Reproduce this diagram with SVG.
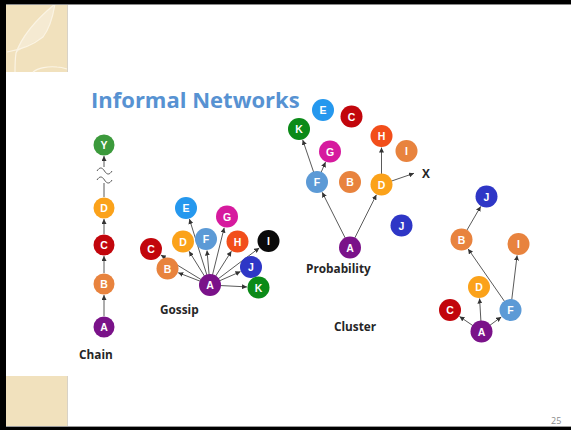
<svg xmlns="http://www.w3.org/2000/svg" width="571" height="430" viewBox="0 0 571 430">
  <style>
    .lbl { font-family: "Open Sans", "Liberation Sans", sans-serif; font-weight: 700; font-size: 11.8px; fill: #262626; }
    .nt { font-family: "Liberation Sans", "DejaVu Sans", sans-serif; font-weight: 700; font-size: 10.5px; fill: #ffffff; text-anchor: middle; dominant-baseline: central; }
    .edge { stroke: #5a5a5a; stroke-width: 1; fill: none; marker-end: url(#ah); }
    .plain { stroke: #5a5a5a; stroke-width: 1; fill: none; }
    .cA { fill: #7a1289; } .cB { fill: #e8833e; } .cC { fill: #c2060c; }
    .cD { fill: #fba21a; } .cE { fill: #2598ee; } .cF { fill: #5c9ad6; }
    .cG { fill: #d61a9e; } .cH { fill: #f24e1a; } .cI { fill: #0a0a0a; }
    .cIo { fill: #e8833e; } .cJ { fill: #2e36c6; } .cK { fill: #0b8a18; }
    .cY { fill: #3c9a3c; }
  </style>
  <defs>
    <marker id="ah" viewBox="0 0 6 6" refX="6" refY="3" markerWidth="5" markerHeight="5" orient="auto" markerUnits="userSpaceOnUse">
      <path d="M0,0 L6,3 L0,6 z" fill="#333"/>
    </marker>
  </defs>

  <!-- slide background and frame -->
  <rect x="0" y="0" width="571" height="430" fill="#ffffff"/>
  <g id="corner-top">
    <rect x="6" y="4" width="61" height="68" fill="#f1e1bd"/>
    <path d="M55,4 C40,16 25,30 16,53 C22,48 34,42 43,37 C50,28 53,16 55,4 z" fill="#f5ead2"/>
    <path d="M55,4 C38,18 22,36 16,53 C15,60 15,66 15,72" stroke="#fbf4e4" stroke-width="1.2" fill="none"/>
    <path d="M7,52 C20,50 34,44 43,37 C50,28 53,16 55,4" stroke="#fbf4e4" stroke-width="1.2" fill="none"/>
    <path d="M33,72 C38,68 48,66 57,67 C61,67 64,68 67,69" stroke="#fbf4e4" stroke-width="1.2" fill="none"/>
    <line x1="67.5" y1="4" x2="67.5" y2="72" stroke="#d8d2c6" stroke-width="1"/>
  </g>
  <g id="corner-bottom">
    <rect x="6" y="376" width="61" height="50" fill="#f1e1bd"/>
    <line x1="67.5" y1="376" x2="67.5" y2="426" stroke="#d8d2c6" stroke-width="1"/>
  </g>
  <rect x="0" y="0" width="571" height="4" fill="#000"/>
  <rect x="6" y="4" width="565" height="1" fill="#8a8a8a"/>
  <rect x="0" y="0" width="6" height="430" fill="#000"/>
  <rect x="6" y="426" width="565" height="1" fill="#9a9a9a"/>
  <rect x="0" y="427" width="571" height="3" fill="#000"/>

  <text x="91" y="108" font-family="'Open Sans', 'Liberation Sans', sans-serif" font-weight="700" font-size="22" fill="#5792d2">Informal Networks</text>
  <text x="551" y="424" font-family="'Open Sans', 'Liberation Sans', sans-serif" font-size="9" fill="#8c8c8c">25</text>

  <!-- connectors -->
  <g id="connectors">
    <!-- chain -->
    <line class="edge" x1="104" y1="316" x2="104" y2="295"/>
    <line class="edge" x1="104" y1="273" x2="104" y2="256"/>
    <line class="edge" x1="104" y1="234" x2="104" y2="219"/>
    <line class="plain" x1="104" y1="197" x2="104" y2="183"/>
    <path class="plain" d="M97,180 C99.5,176 102,176 104.5,180 S109.5,184 112,180"/>
    <path class="plain" d="M97,171 C99.5,167 102,167 104.5,171 S109.5,175 112,171"/>
    <line class="edge" x1="104" y1="167" x2="104" y2="156"/>
    <!-- gossip -->
    <line class="edge" x1="210" y1="285" x2="189.4" y2="219"/>
    <line class="edge" x1="210" y1="285" x2="224.2" y2="227.7"/>
    <line class="edge" x1="210" y1="285" x2="160.8" y2="255"/>
    <line class="edge" x1="210" y1="285" x2="189.1" y2="251.3"/>
    <line class="edge" x1="210" y1="285" x2="207" y2="250.5"/>
    <line class="edge" x1="210" y1="285" x2="231.4" y2="251.2"/>
    <line class="edge" x1="210" y1="285" x2="259.3" y2="247.9"/>
    <line class="edge" x1="210" y1="285" x2="178.2" y2="272.7"/>
    <line class="edge" x1="210" y1="285" x2="240.5" y2="271.6"/>
    <line class="edge" x1="210" y1="285" x2="247" y2="286.9"/>
    <!-- probability -->
    <line class="edge" x1="350" y1="247.5" x2="322.2" y2="192.3"/>
    <line class="edge" x1="350" y1="247.5" x2="376.4" y2="194.8"/>
    <line class="edge" x1="317" y1="182" x2="302.7" y2="139.9"/>
    <line class="edge" x1="317" y1="182" x2="325.5" y2="162.1"/>
    <line class="edge" x1="381.5" y1="184.5" x2="381.5" y2="147.5"/>
    <line class="edge" x1="381.5" y1="184.5" x2="414" y2="173.3"/>
    <!-- cluster -->
    <line class="edge" x1="481.5" y1="331.5" x2="459.5" y2="316.5"/>
    <line class="edge" x1="481.5" y1="331.5" x2="479.6" y2="298.5"/>
    <line class="edge" x1="481.5" y1="331.5" x2="501.3" y2="316.9"/>
    <line class="edge" x1="510.5" y1="310" x2="468.1" y2="248.9"/>
    <line class="edge" x1="510.5" y1="310" x2="517.1" y2="255.4"/>
    <line class="edge" x1="461.5" y1="239.5" x2="480.7" y2="206.4"/>
  </g>

  <!-- chain nodes -->
  <g id="chain-Y"><circle class="cY" cx="104" cy="145" r="10.5"/><text class="nt" x="104" y="145">Y</text></g>
  <g id="chain-D"><circle class="cD" cx="104" cy="208" r="10.5"/><text class="nt" x="104" y="208">D</text></g>
  <g id="chain-C"><circle class="cC" cx="104" cy="245" r="10.5"/><text class="nt" x="104" y="245">C</text></g>
  <g id="chain-B"><circle class="cB" cx="104" cy="284" r="10.5"/><text class="nt" x="104" y="284">B</text></g>
  <g id="chain-A"><circle class="cA" cx="104" cy="327" r="10.5"/><text class="nt" x="104" y="327">A</text></g>
  <text class="lbl" x="79" y="359">Chain</text>

  <!-- gossip nodes -->
  <g id="gossip-E"><circle class="cE" cx="186" cy="208" r="11"/><text class="nt" x="186" y="208">E</text></g>
  <g id="gossip-G"><circle class="cG" cx="227" cy="216.5" r="11"/><text class="nt" x="227" y="216.5">G</text></g>
  <g id="gossip-C"><circle class="cC" cx="151" cy="249" r="11"/><text class="nt" x="151" y="249">C</text></g>
  <g id="gossip-D"><circle class="cD" cx="183" cy="241.5" r="11"/><text class="nt" x="183" y="241.5">D</text></g>
  <g id="gossip-F"><circle class="cF" cx="206" cy="239" r="11"/><text class="nt" x="206" y="239">F</text></g>
  <g id="gossip-H"><circle class="cH" cx="237.5" cy="241.5" r="11"/><text class="nt" x="237.5" y="241.5">H</text></g>
  <g id="gossip-I"><circle class="cI" cx="268.5" cy="241" r="11"/><text class="nt" x="268.5" y="241">I</text></g>
  <g id="gossip-B"><circle class="cB" cx="167.5" cy="268.5" r="11"/><text class="nt" x="167.5" y="268.5">B</text></g>
  <g id="gossip-J"><circle class="cJ" cx="251" cy="267" r="11"/><text class="nt" x="251" y="267">J</text></g>
  <g id="gossip-K"><circle class="cK" cx="258.5" cy="287.5" r="11"/><text class="nt" x="258.5" y="287.5">K</text></g>
  <g id="gossip-A"><circle class="cA" cx="210" cy="285" r="11"/><text class="nt" x="210" y="285">A</text></g>
  <text class="lbl" x="160" y="314">Gossip</text>

  <!-- probability nodes -->
  <g id="prob-E"><circle class="cE" cx="323" cy="110" r="11"/><text class="nt" x="323" y="110">E</text></g>
  <g id="prob-C"><circle class="cC" cx="351.5" cy="116.5" r="11"/><text class="nt" x="351.5" y="116.5">C</text></g>
  <g id="prob-K"><circle class="cK" cx="299" cy="129" r="11"/><text class="nt" x="299" y="129">K</text></g>
  <g id="prob-G"><circle class="cG" cx="330" cy="151.5" r="11"/><text class="nt" x="330" y="151.5">G</text></g>
  <g id="prob-H"><circle class="cH" cx="381.5" cy="136" r="11"/><text class="nt" x="381.5" y="136">H</text></g>
  <g id="prob-I"><circle class="cIo" cx="406.5" cy="151" r="11"/><text class="nt" x="406.5" y="151">I</text></g>
  <g id="prob-F"><circle class="cF" cx="317" cy="182" r="11"/><text class="nt" x="317" y="182">F</text></g>
  <g id="prob-B"><circle class="cB" cx="350" cy="182" r="11"/><text class="nt" x="350" y="182">B</text></g>
  <g id="prob-D"><circle class="cD" cx="381.5" cy="184.5" r="11"/><text class="nt" x="381.5" y="184.5">D</text></g>
  <g id="prob-J"><circle class="cJ" cx="401.5" cy="225.5" r="11"/><text class="nt" x="401.5" y="225.5">J</text></g>
  <g id="prob-A"><circle class="cA" cx="350" cy="247.5" r="11"/><text class="nt" x="350" y="247.5">A</text></g>
  <text class="lbl" x="422" y="177.5">X</text>
  <text class="lbl" x="306" y="273">Probability</text>

  <!-- cluster nodes -->
  <g id="cluster-J"><circle class="cJ" cx="486.5" cy="196.5" r="11"/><text class="nt" x="486.5" y="196.5">J</text></g>
  <g id="cluster-B"><circle class="cB" cx="461.5" cy="239.5" r="11"/><text class="nt" x="461.5" y="239.5">B</text></g>
  <g id="cluster-I"><circle class="cIo" cx="518.5" cy="244" r="11"/><text class="nt" x="518.5" y="244">I</text></g>
  <g id="cluster-D"><circle class="cD" cx="479" cy="287" r="11"/><text class="nt" x="479" y="287">D</text></g>
  <g id="cluster-C"><circle class="cC" cx="450" cy="310" r="11"/><text class="nt" x="450" y="310">C</text></g>
  <g id="cluster-F"><circle class="cF" cx="510.5" cy="310" r="11"/><text class="nt" x="510.5" y="310">F</text></g>
  <g id="cluster-A"><circle class="cA" cx="481.5" cy="331.5" r="11"/><text class="nt" x="481.5" y="331.5">A</text></g>
  <text class="lbl" x="334" y="331">Cluster</text>
</svg>
